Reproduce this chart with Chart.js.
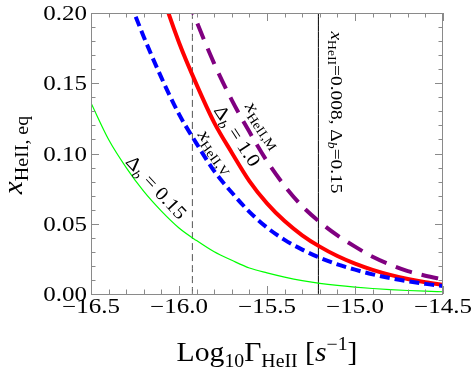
<!DOCTYPE html>
<html>
<head>
<meta charset="utf-8">
<script src="https://cdn.jsdelivr.net/npm/chart.js@4/dist/chart.umd.min.js"></script>
<style>
  body { margin: 0; background: #fff; }
  #wrap { width: 474px; height: 372px; }
</style>
</head>
<body>
<div id="wrap"><canvas id="heChart"></canvas></div>
<script>
// log10 Gamma_HeII grid and curves
const logGamma = [-16.5, -16.4, -16.3, -16.2, -16.1, -16.0, -15.9, -15.8, -15.7, -15.6, -15.5,
                  -15.4, -15.3, -15.2, -15.1, -15.0, -14.9, -14.8, -14.7, -14.6, -14.5];
const xDb015 = [0.136, 0.110, 0.090, 0.073, 0.059, 0.047, 0.038, 0.030, 0.024, 0.0185, 0.0150,
                0.0120, 0.0095, 0.0076, 0.0061, 0.0049, 0.0039, 0.0031, 0.0025, 0.0020, 0.0016];
const xHeIIV = [0.288, 0.250, 0.215, 0.183, 0.154, 0.128, 0.107, 0.0875, 0.0722, 0.0585, 0.0473,
                0.0385, 0.0316, 0.0258, 0.0211, 0.0173, 0.0140, 0.0113, 0.0091, 0.0072, 0.0057];
const xDb10 = [0.400, 0.352, 0.302, 0.256, 0.215, 0.179, 0.149, 0.122, 0.1006, 0.0804, 0.0645,
               0.0519, 0.0418, 0.0337, 0.0270, 0.0216, 0.0172, 0.0136, 0.0107, 0.0084, 0.0065];
const xHeIIM = [0.490, 0.420, 0.361, 0.314, 0.267, 0.228, 0.194, 0.164, 0.138, 0.1154, 0.0945,
                0.0770, 0.0625, 0.0512, 0.0417, 0.0337, 0.0265, 0.0209, 0.0163, 0.0130, 0.0104];
const dashedLineX = -15.924;
const solidLineX = -15.208;
const xTickVals = [-16.5, -16.0, -15.5, -15.0, -14.5];
const yTickVals = [0.00, 0.05, 0.10, 0.15, 0.20];

const serif = '"Liberation Serif", "DejaVu Serif", serif';

function pts(ys) { return logGamma.map((x, i) => ({ x: x, y: ys[i] })); }
function vline(x) { return [{ x: x, y: 0 }, { x: x, y: 0.2 }]; }

// draw a run of text pieces [text, size, italic, yshift] centred on (x, y)
function drawRich(ctx, parts, x, y, angle, base, sx) {
  ctx.save();
  ctx.translate(x, y);
  ctx.rotate(angle);
  ctx.scale(sx || 1, 1);
  let total = 0;
  parts.forEach(p => {
    ctx.font = (p[2] ? 'italic ' : '') + p[1] + 'px ' + serif;
    p.w = ctx.measureText(p[0]).width;
    total += p.w;
  });
  let cx = -total / 2;
  ctx.textAlign = 'left';
  ctx.textBaseline = 'alphabetic';
  ctx.fillStyle = '#000';
  parts.forEach(p => {
    ctx.font = (p[2] ? 'italic ' : '') + p[1] + 'px ' + serif;
    ctx.fillText(p[0], cx, base + (p[3] || 0));
    cx += p.w;
  });
  ctx.restore();
}

const framePlugin = {
  id: 'frame',
  afterDraw(chart) {
    const { ctx, chartArea: a, scales: { x, y } } = chart;
    ctx.save();
    ctx.strokeStyle = '#8a8a8a';
    ctx.lineWidth = 1;
    ctx.strokeRect(a.left + 0.5, a.top + 0.5, a.right - a.left - 1, a.bottom - a.top);
    ctx.beginPath();
    for (let i = 0; i <= 20; i++) {
      const v = -16.5 + i * 0.1;
      const px = Math.round(x.getPixelForValue(v)) + 0.5;
      const len = i % 5 === 0 ? 8 : 4.5;
      ctx.moveTo(px, a.bottom); ctx.lineTo(px, a.bottom - len);
      ctx.moveTo(px, a.top); ctx.lineTo(px, a.top + len);
    }
    for (let i = 0; i <= 20; i++) {
      const v = i * 0.01;
      const py = Math.round(y.getPixelForValue(v)) + 0.5;
      const len = i % 5 === 0 ? 8 : 4.5;
      ctx.moveTo(a.left, py); ctx.lineTo(a.left + len, py);
      ctx.moveTo(a.right, py); ctx.lineTo(a.right - len, py);
    }
    ctx.stroke();

    // tick labels (Mathematica-like wide serif)
    ctx.fillStyle = '#000';
    ctx.font = '20px ' + serif;
    ctx.textBaseline = 'alphabetic';
    yTickVals.forEach(v => {
      ctx.save();
      ctx.translate(a.left - 4, y.getPixelForValue(v) + 7);
      ctx.scale(1.25, 1);
      ctx.textAlign = 'right';
      ctx.fillText(v.toFixed(2), 0, 0);
      ctx.restore();
    });
    xTickVals.forEach(v => {
      ctx.save();
      ctx.translate(x.getPixelForValue(v), a.bottom + 19);
      ctx.scale(1.25, 1);
      ctx.textAlign = 'center';
      ctx.fillText('\u2212' + Math.abs(v).toFixed(1), 0, 0);
      ctx.restore();
    });
    ctx.restore();

    const P = (vx, vy) => [x.getPixelForValue(vx), y.getPixelForValue(vy)];
    const deg = Math.PI / 180;

    // axis titles
    drawRich(ctx, [['Log', 27], ['10', 18, false, 6], ['\u0393', 27], ['HeII', 18, false, 6],
                   [' [', 27], ['s', 27, true], ['\u22121', 18, false, -11], [']', 27]],
             (a.left + a.right) / 2, 361, 0, 0, 1.1);
    drawRich(ctx, [['x', 28, true], ['HeII, eq', 19, false, 6]], 22, 155, -90 * deg, 0, 1.05);

    // curve labels
    let c = P(-16.130, 0.0758);
    drawRich(ctx, [['\u0394', 19], ['b', 13, true, 4], [' = 0.15', 19]], c[0], c[1], 47 * deg, 6, 1.1);
    c = P(-15.786, 0.1015);
    drawRich(ctx, [['x', 19, true], ['HeII,V', 13, false, 4]], c[0], c[1], 54 * deg, 6, 1.1);
    c = P(-15.670, 0.1125);
    drawRich(ctx, [['\u0394', 19], ['b', 13, true, 4], [' = 1.0', 19]], c[0], c[1], 57 * deg, 6, 1.1);
    c = P(-15.518, 0.1205);
    drawRich(ctx, [['x', 19, true], ['HeII,M', 13, false, 4]], c[0], c[1], 56 * deg, 6, 1.1);
    c = P(-15.136, 0.1292);
    drawRich(ctx, [['x', 17, true], ['HeII', 12, false, 3], ['=0.008, \u0394', 17], ['b', 12, true, 3], ['=0.15', 17]],
             c[0], c[1], 90 * deg, 0, 1.14);
  }
};

new Chart(document.getElementById('heChart'), {
  type: 'line',
  data: {
    datasets: [
      { data: pts(xDb015), borderColor: '#00ff00', borderWidth: 1.2 },
      { data: pts(xHeIIV), borderColor: '#0000ff', borderWidth: 4, borderDash: [10, 5] },
      { data: pts(xDb10), borderColor: '#ff0000', borderWidth: 4 },
      { data: pts(xHeIIM), borderColor: '#800080', borderWidth: 4, borderDash: [17, 10] },
      { data: vline(dashedLineX), borderColor: '#555555', borderWidth: 1, borderDash: [7, 4] },
      { data: vline(solidLineX), borderColor: '#000000', borderWidth: 1 }
    ]
  },
  options: {
    responsive: true,
    maintainAspectRatio: false,
    animation: false,
    layout: { padding: { left: 0, right: 31, top: 13, bottom: 0 } },
    elements: { point: { radius: 0 }, line: { cubicInterpolationMode: 'monotone', fill: false } },
    plugins: { legend: { display: false }, tooltip: { enabled: false } },
    scales: {
      x: {
        type: 'linear', min: -16.5, max: -14.5,
        grid: { display: false, drawTicks: false },
        border: { display: false },
        ticks: { display: false },
        afterBuildTicks: s => { s.ticks = xTickVals.map(v => ({ value: v })); },
        afterFit: s => { s.height = 78; }
      },
      y: {
        type: 'linear', min: 0, max: 0.2,
        grid: { display: false, drawTicks: false },
        border: { display: false },
        ticks: { display: false },
        afterBuildTicks: s => { s.ticks = yTickVals.map(v => ({ value: v })); },
        afterFit: s => { s.width = 91; }
      }
    }
  },
  plugins: [framePlugin]
});
</script>
</body>
</html>
